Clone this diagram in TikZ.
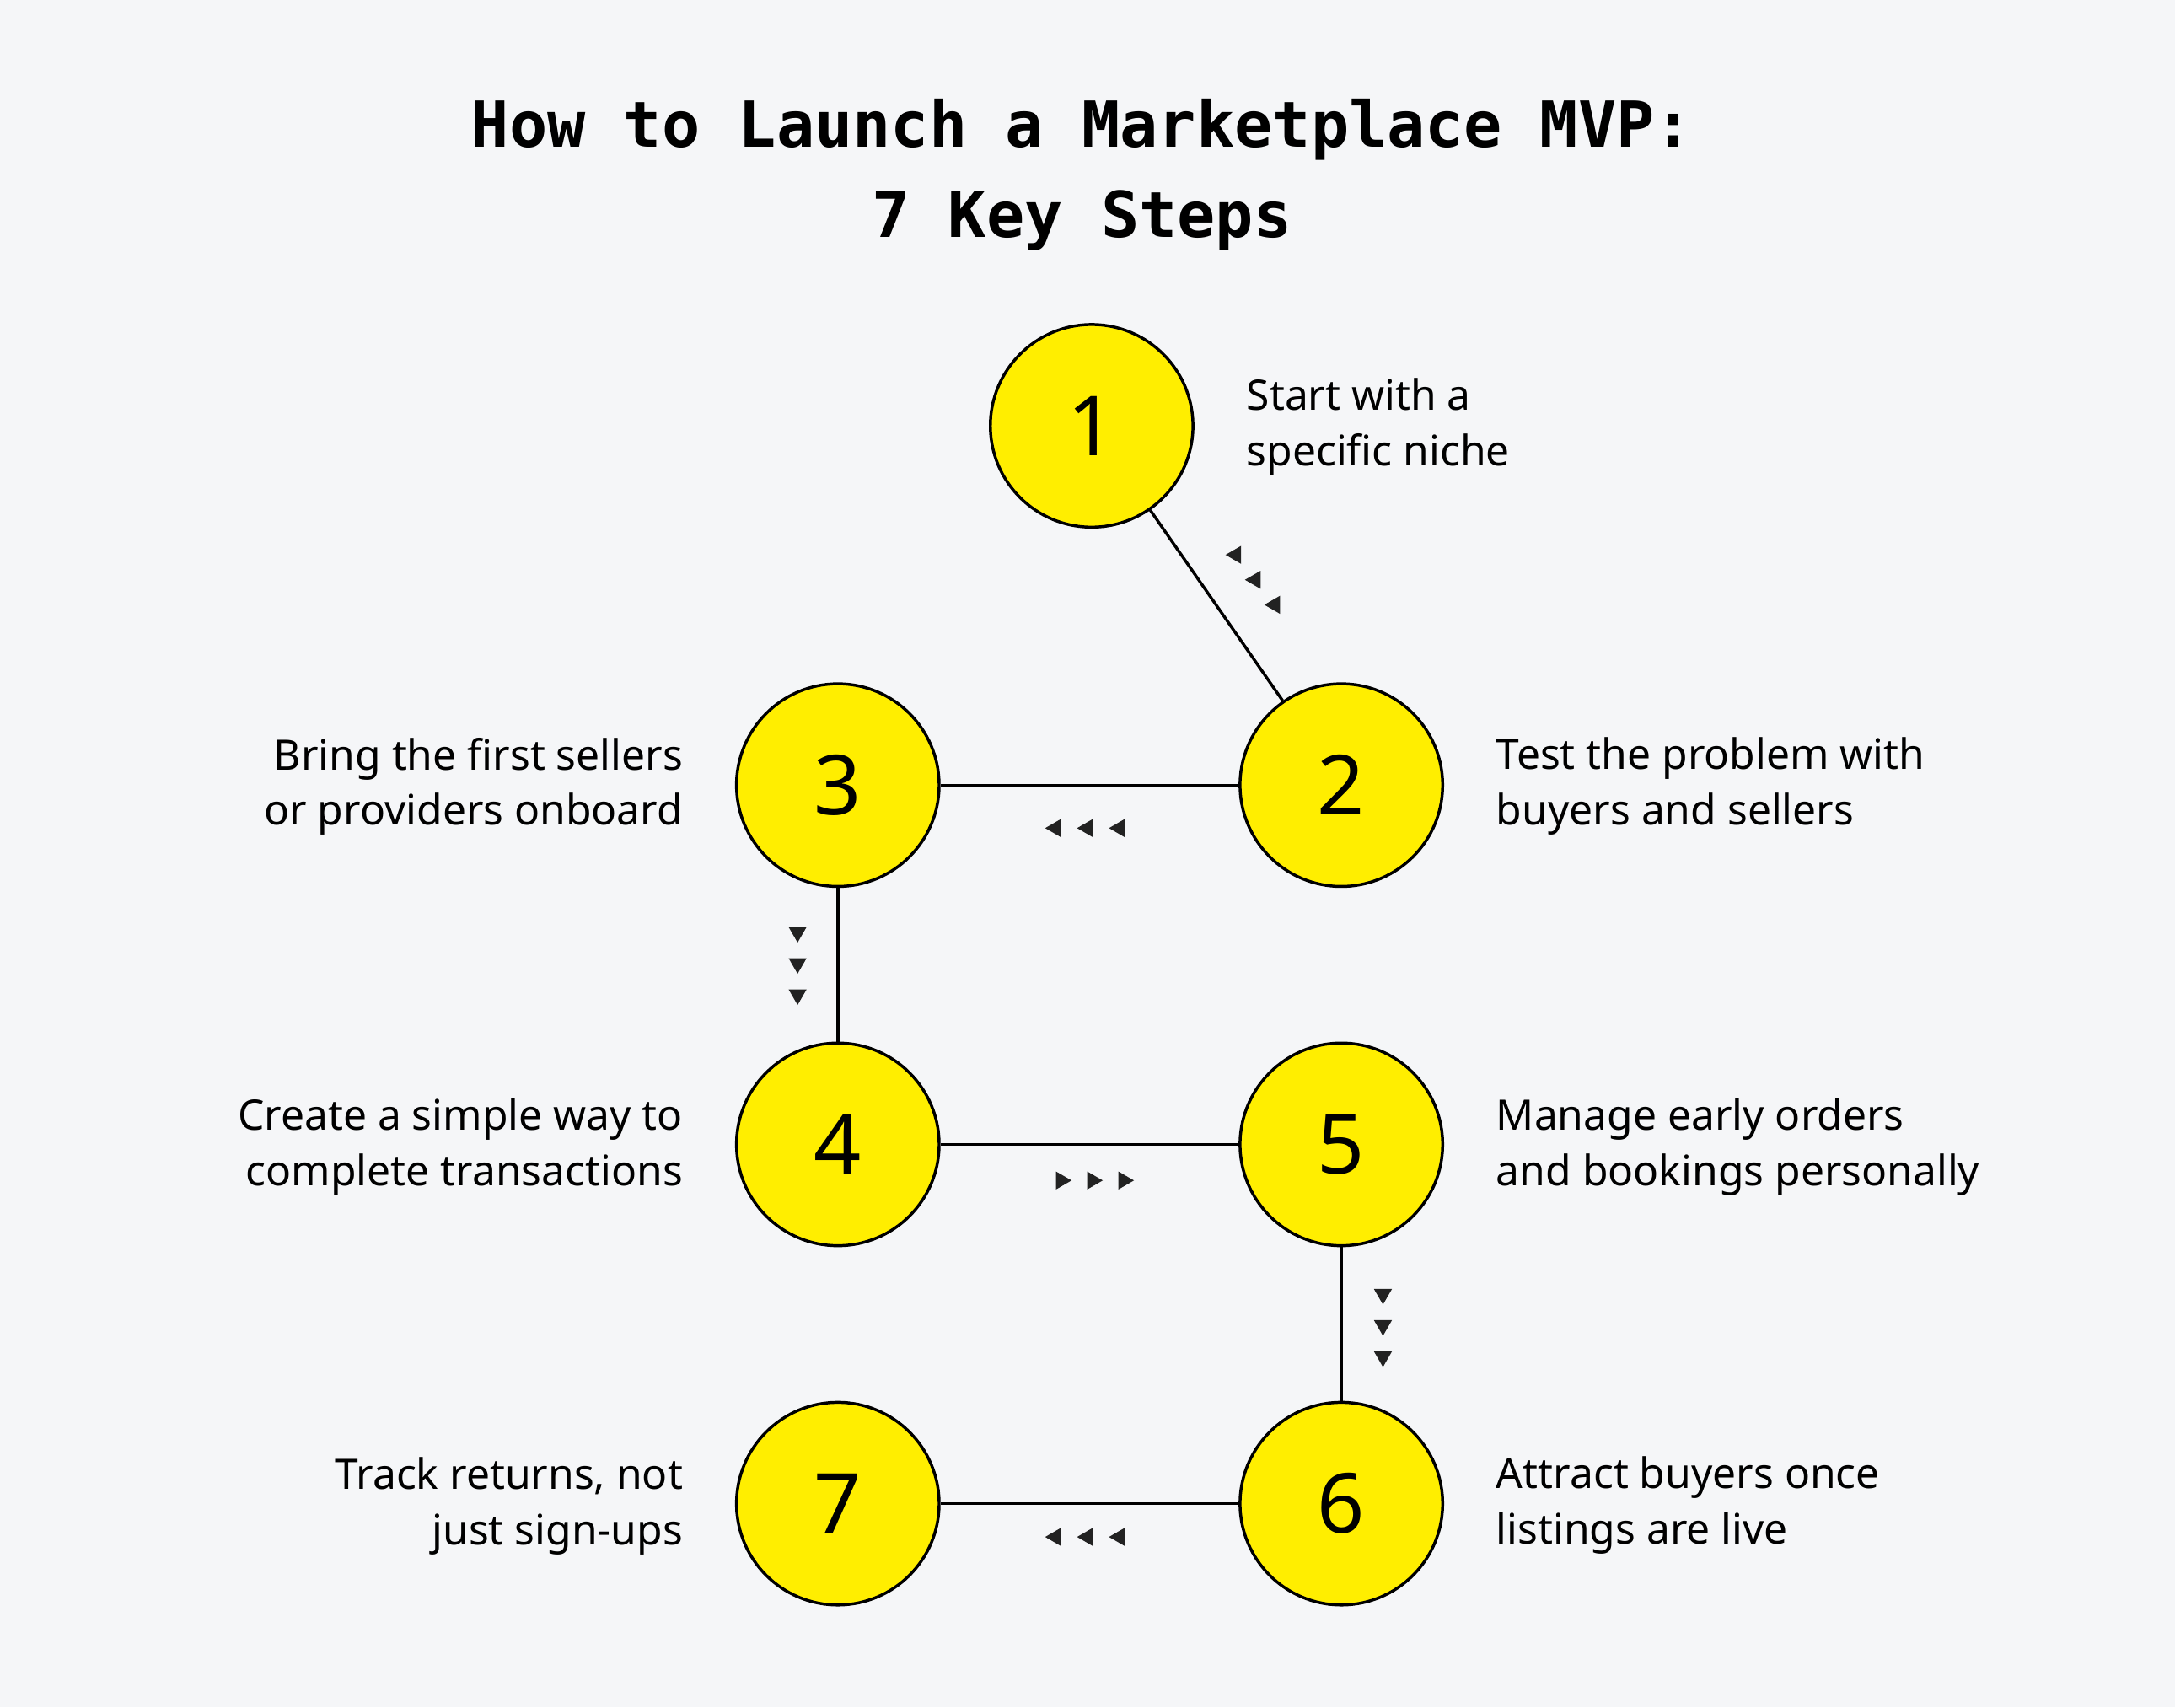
\documentclass[tikz,border=0pt]{standalone}
\usepackage{fontspec}
\setmainfont{Noto Sans}
\newfontfamily\titlefont{DejaVu Sans Mono}
\usetikzlibrary{shapes.geometric}
\definecolor{bgcol}{HTML}{F5F6F8}
\definecolor{stepyellow}{HTML}{FFEE00}
\definecolor{tipcol}{HTML}{222222}

\begin{document}
\begin{tikzpicture}[x=0.01cm,y=-0.01cm,
    stepnode/.style={circle, draw, line width=0.6pt, fill=stepyellow, minimum size=1.46cm, inner sep=0pt, font=\fontsize{17pt}{17pt}\selectfont\bfseries},
    txt/.style={inner sep=0pt, font=\fontsize{8.6pt}{11.4pt}\selectfont},
    tip/.style={regular polygon, regular polygon sides=3, fill=tipcol, inner sep=0pt, minimum size=0.15cm}]
      % Background
      \fill[bgcol] (0,0) rectangle (1568,1231);
      \useasboundingbox (0,0) rectangle (1568,1231);

      % Title
      \node[inner sep=0pt, align=center, font=\titlefont\bfseries\fontsize{13pt}{18.5pt}\selectfont] (title) at (780,126)
        {How to Launch a Marketplace MVP:\\7 Key Steps};

      % Steps
      \node[stepnode] (S1) at (787,307) {1};
      \node[stepnode] (S2) at (967,566) {2};
      \node[stepnode] (S3) at (604,566) {3};
      \node[stepnode] (S4) at (604,825) {4};
      \node[stepnode] (S5) at (967,825) {5};
      \node[stepnode] (S6) at (967,1084) {6};
      \node[stepnode] (S7) at (604,1084) {7};

      % Labels
      \node[txt, anchor=west, align=left] (T1) at (898,308) {Start with a\\specific niche};
      \node[txt, anchor=west, align=left] (T2) at (1078,567) {Test the problem with\\buyers and sellers};
      \node[txt, anchor=east, align=right] (T3) at (493,567) {Bring the first sellers\\or providers onboard};
      \node[txt, anchor=east, align=right] (T4) at (493,827) {Create a simple way to\\complete transactions};
      \node[txt, anchor=west, align=left] (T5) at (1078,827) {Manage early orders\\and bookings personally};
      \node[txt, anchor=west, align=left] (T6) at (1078,1085) {Attract buyers once\\listings are live};
      \node[txt, anchor=east, align=right] (T7) at (493,1086) {Track returns, not\\just sign-ups};

      % Connectors
      \draw[line width=0.6pt] (S1) -- (S2);
      \draw[line width=0.6pt] (S2) -- (S3);
      \draw[line width=0.6pt] (S3) -- (S4);
      \draw[line width=0.6pt] (S4) -- (S5);
      \draw[line width=0.6pt] (S5) -- (S6);
      \draw[line width=0.6pt] (S6) -- (S7);

      % Direction marks
      \foreach \i in {0,1,2} {
        \node[tip, rotate=90] (A12\i) at (891+14*\i,400+18*\i) {};
        \node[tip, rotate=90] (A23\i) at (761+23*\i,597) {};
        \node[tip, rotate=180] (A34\i) at (575,672+22.5*\i) {};
        \node[tip, rotate=-90] (A45\i) at (765+22.5*\i,851) {};
        \node[tip, rotate=180] (A56\i) at (997,933+22.5*\i) {};
        \node[tip, rotate=90] (A67\i) at (761+23*\i,1108) {};
      }
    \end{tikzpicture}
\end{document}
